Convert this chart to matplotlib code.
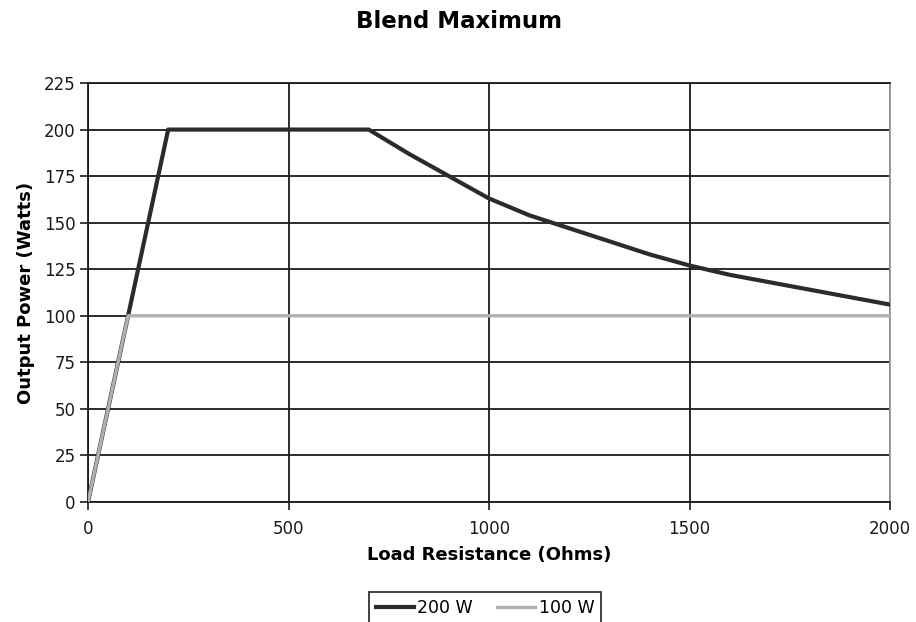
import numpy as np
import matplotlib
matplotlib.use("Agg")
import matplotlib.pyplot as plt

# data
r_200 = [0, 200, 700, 800, 900, 1000, 1100, 1200, 1300, 1400, 1500, 1600, 1700, 1800, 1900, 2000]
p_200 = [0, 200, 200, 187, 175, 163, 154, 147, 140, 133, 127, 122, 118, 114, 110, 106]
r_100 = [0, 100, 2000]
p_100 = [0, 100, 100]

x_ticks = [0, 500, 1000, 1500, 2000]
y_ticks = [0, 25, 50, 75, 100, 125, 150, 175, 200, 225]

plt.rcParams['font.family'] = ['DejaVu Sans']

fig = plt.figure(figsize=(9.16, 6.22), dpi=100)
ax = fig.add_axes([88/916, 1 - 502/622, (890 - 88)/916, (502 - 83)/622])

ax.plot(r_200, p_200, color='#2b2b2b', lw=3.0, label='200 W', solid_joinstyle='round', zorder=3)
ax.plot(r_100, p_100, color='#b0b0b0', lw=2.4, label='100 W', zorder=4)

ax.set_xlim(0, 2000)
ax.set_ylim(0, 225)
ax.set_xticks(x_ticks)
ax.set_yticks(y_ticks)
ax.grid(True, color='#1a1a1a', lw=1.3, zorder=1)
ax.set_axisbelow(True)

for s in ['left', 'bottom', 'top']:
    ax.spines[s].set_color('#1a1a1a')
    ax.spines[s].set_linewidth(1.3)
ax.spines['right'].set_color('#999999')
ax.spines['right'].set_linewidth(1.3)

ax.tick_params(axis='both', direction='out', length=6, width=1.2, labelsize=12, colors='#1a1a1a')
ax.tick_params(axis='x', pad=7)
ax.tick_params(axis='y', pad=3)

fig.text(459/916, 1 - 21/622, 'Blend Maximum', fontsize=16.5, fontweight='bold',
         ha='center', va='center')
ax.set_xlabel('Load Resistance (Ohms)', fontsize=13, fontweight='bold', labelpad=6)
ax.set_ylabel('Output Power (Watts)', fontsize=13, fontweight='bold', labelpad=6)

leg = fig.legend(loc='upper center', bbox_to_anchor=(485/916, 1 - 583/622), ncol=2,
                 frameon=True, fancybox=False, edgecolor='black', fontsize=12.5,
                 handlelength=2.2, handletextpad=0.2, columnspacing=1.4,
                 borderpad=0.4)
leg.get_frame().set_linewidth(1.3)

fig.savefig('out.png', dpi=100)
